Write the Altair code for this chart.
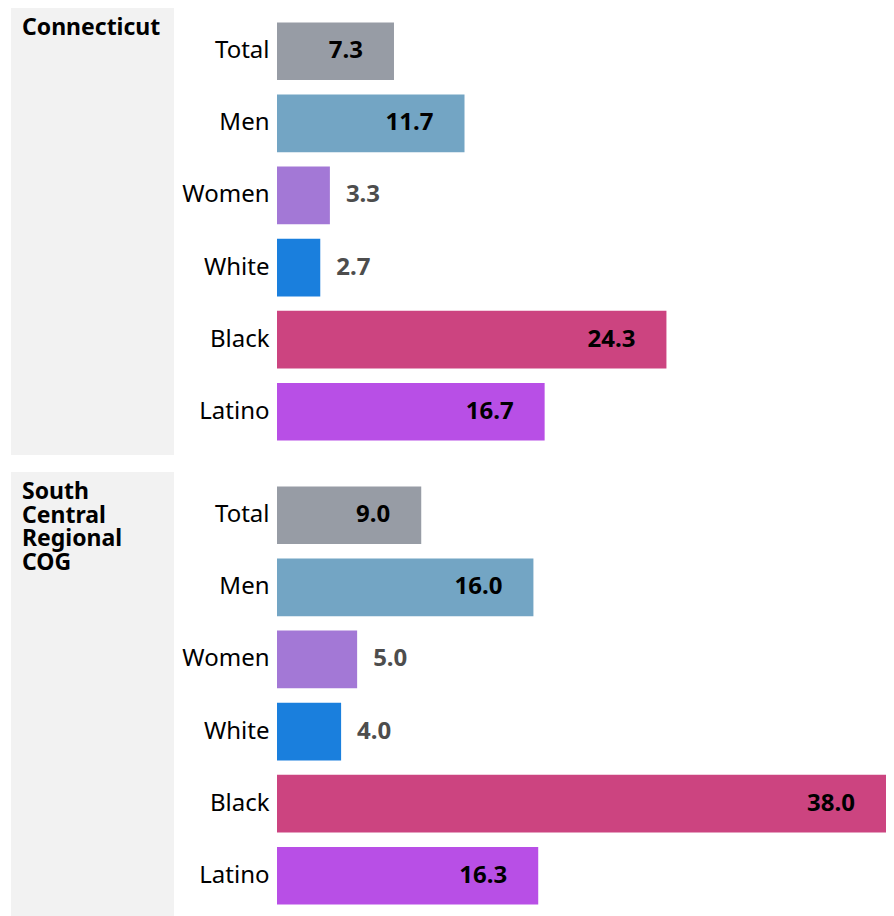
import altair as alt
import pandas as pd

regions = ["Connecticut"] * 6 + ["South Central Regional COG"] * 6
groups = ["Total", "Men", "Women", "White", "Black", "Latino"]
group_col = groups * 2
values = [7.3, 11.7, 3.3, 2.7, 24.3, 16.7, 9.0, 16.0, 5.0, 4.0, 38.0, 16.3]
colors = ["#979ca5", "#73a5c4", "#a378d6", "#1a7fdd", "#cc4480", "#b84fe6"]
region_order = ["Connecticut", "South Central Regional COG"]

df = pd.DataFrame({"region": regions, "group": group_col, "value": values})

FONT = "Noto Sans"
H = 447
W = 609


def panel(region):
    data = df[df["region"] == region]
    y_enc = alt.Y(
        "group:N",
        sort=groups,
        scale=alt.Scale(paddingInner=0.2, paddingOuter=0.2),
        axis=alt.Axis(title=None, ticks=False, domain=False, labelFontSize=24,
                      labelPadding=8, labelColor="black", labelFont=FONT),
    )
    x_enc = alt.X("value:Q", scale=alt.Scale(domain=[0, 38], nice=False), axis=None)

    base = alt.Chart(data)
    bg = base.mark_rect(color="#f2f2f2").encode(
        x=alt.value(-266), x2=alt.value(-103), y=alt.value(0), y2=alt.value(H)
    ).transform_filter("datum.group == 'Total'")

    header = base.mark_text(
        align="left", baseline="alphabetic", fontSize=23, fontWeight="bold",
        lineBreak=" ", lineHeight=23.5, font=FONT, color="black"
    ).encode(
        x=alt.value(-255), y=alt.value(27), text="region:N"
    ).transform_filter("datum.group == 'Total'")

    bars = base.mark_bar().encode(
        x=x_enc, y=y_enc,
        color=alt.Color("group:N", scale=alt.Scale(domain=groups, range=colors), legend=None),
    )

    inside = base.mark_text(
        align="right", dx=-31, baseline="middle", fontSize=24, fontWeight="bold",
        color="black", font=FONT
    ).encode(
        x=x_enc, y=y_enc, text=alt.Text("value:Q", format=".1f")
    ).transform_filter("datum.value >= 6")

    outside = base.mark_text(
        align="left", dx=16, baseline="middle", fontSize=24, fontWeight="bold",
        color="#4d4d4d", font=FONT
    ).encode(
        x=x_enc, y=y_enc, text=alt.Text("value:Q", format=".1f")
    ).transform_filter("datum.value < 6")

    return alt.layer(bg, header, bars, inside, outside).properties(width=W, height=H)


chart = alt.vconcat(
    *[panel(r) for r in region_order], spacing=17,
).properties(
    padding={"left": 3, "top": 0, "right": 0, "bottom": 0},
).configure(
    font=FONT,
    view=alt.ViewConfig(stroke=None, strokeWidth=0),
)

chart.save("out.html", embed_options={"renderer": "svg", "actions": False})
